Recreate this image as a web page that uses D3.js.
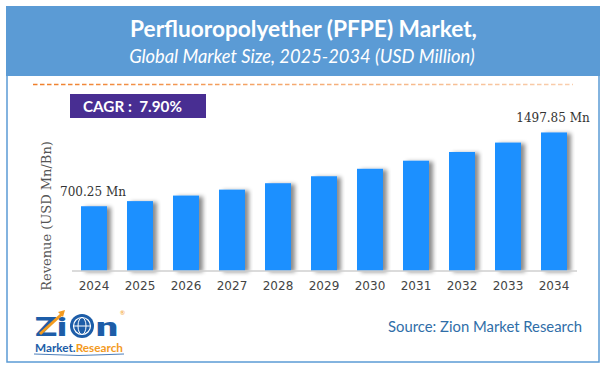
<!DOCTYPE html>
<html>
<head>
<meta charset="utf-8">
<script src="https://cdn.jsdelivr.net/npm/d3@7"></script>
<style>
  html, body { margin: 0; padding: 0; background: #ffffff; }
  svg { display: block; }
</style>
</head>
<body>
<div id="chart"></div>
<script>
// ---- data ----
const years = ["2024","2025","2026","2027","2028","2029","2030","2031","2032","2033","2034"];
const revenue = [700.25, 755.6, 815.3, 879.7, 949.2, 1024.2, 1105.1, 1192.4, 1286.6, 1388.2, 1497.85];
const valueLabels = [{year: "2024", text: "700.25 Mn"}, {year: "2034", text: "1497.85 Mn"}];
const titleText = "Perfluoropolyether (PFPE) Market,";
const subtitleText = "Global Market Size, 2025-2034 (USD Million)";
const cagrText = "CAGR :  7.90%";
const yAxisTitle = "Revenue (USD Mn/Bn)";
const sourceText = "Source: Zion Market Research";
const yDomain = [0, 1600];

const W = 607, H = 369;
const svg = d3.select("#chart").append("svg").attr("width", W).attr("height", H);
const defs = svg.append("defs");

// drop shadow for bars
const f = defs.append("filter").attr("id", "shadow").attr("x", "-30%").attr("y", "-10%").attr("width", "160%").attr("height", "120%");
f.append("feDropShadow").attr("dx", 4).attr("dy", 1).attr("stdDeviation", 2)
  .attr("flood-color", "#000").attr("flood-opacity", 0.45);

// fading dashed line gradient
const g1 = defs.append("linearGradient").attr("id", "dashGrad")
  .attr("gradientUnits", "userSpaceOnUse").attr("x1", 33).attr("x2", 573).attr("y1", 0).attr("y2", 0);
g1.append("stop").attr("offset", "0%").attr("stop-color", "#F07F2A").attr("stop-opacity", 1);
g1.append("stop").attr("offset", "100%").attr("stop-color", "#F7B98A").attr("stop-opacity", 0.7);

function fitText(sel, width) {
  const node = sel.node();
  const fs = parseFloat(sel.attr("font-size"));
  const len = node.getComputedTextLength();
  sel.attr("font-size", (fs * width / len).toFixed(2));
}

// frame
svg.append("rect").attr("x", 7).attr("y", 70).attr("width", 592).attr("height", 292)
  .attr("fill", "#fff").attr("stroke", "#5B9BD5").attr("stroke-width", 1.5);
svg.append("rect").attr("x", 6).attr("y", 6).attr("width", 594).attr("height", 70).attr("fill", "#5B9BD5");

const t1 = svg.append("text").attr("x", 303.5).attr("y", 37).attr("text-anchor", "middle")
  .attr("font-family", "Lato, 'Open Sans', sans-serif").attr("font-weight", "bold")
  .attr("font-size", 20).attr("fill", "#fff").text(titleText);
fitText(t1, 347);
const t2 = svg.append("text").attr("x", 302).attr("y", 63).attr("text-anchor", "middle")
  .attr("font-family", "Lato, 'Open Sans', sans-serif").attr("font-style", "italic")
  .attr("font-size", 16).attr("fill", "#fff").text(subtitleText);
fitText(t2, 346);

// dashed line
svg.append("line").attr("x1", 33).attr("x2", 573).attr("y1", 84.5).attr("y2", 84.5)
  .attr("stroke", "url(#dashGrad)").attr("stroke-width", 1.5).attr("stroke-dasharray", "4.5,2.5");

// CAGR box
svg.append("rect").attr("x", 70).attr("y", 94).attr("width", 136).attr("height", 24).attr("fill", "#482E92");
const ct = svg.append("text").attr("x", 83).attr("y", 112).style("white-space", "pre")
  .attr("font-family", "Lato, 'Open Sans', sans-serif").attr("font-weight", "bold")
  .attr("font-size", 14).attr("fill", "#fff").text(cagrText);
fitText(ct, 99);

// scales
const x = d3.scaleBand().domain(years).range([71, 577]).paddingInner(0.435).paddingOuter(0.2175);
const y = d3.scaleLinear().domain(yDomain).range([271, 123]);

// bars
svg.append("g").selectAll("rect").data(revenue).join("rect")
  .attr("x", (d, i) => x(years[i]))
  .attr("y", d => y(d))
  .attr("width", x.bandwidth())
  .attr("height", d => y(0) - y(d))
  .attr("fill", "#1E90FF")
  .attr("filter", "url(#shadow)");

// x axis
const xAxis = svg.append("g").attr("transform", "translate(0,271)")
  .call(d3.axisBottom(x).tickSize(0).tickPadding(0));
xAxis.select(".domain").attr("stroke", "#cfcfcf").attr("stroke-width", 1.5)
  .attr("d", "M72,0H577");
xAxis.selectAll("text").attr("font-family", "'DejaVu Sans', Verdana, sans-serif")
  .attr("font-size", 12).attr("fill", "#444").attr("dy", 0).attr("y", 19);

// value labels
svg.append("g").selectAll("text").data(valueLabels).join("text")
  .attr("x", d => x(d.year) + x.bandwidth() / 2 - 1)
  .attr("y", d => y(revenue[years.indexOf(d.year)]) - 10)
  .attr("text-anchor", "middle")
  .attr("font-family", "'DejaVu Serif', serif").attr("font-size", 12).attr("fill", "#333")
  .text(d => d.text);

// y axis title
svg.append("text").attr("transform", "translate(51,216) rotate(-90)")
  .attr("text-anchor", "middle").attr("font-family", "'DejaVu Serif', serif")
  .attr("font-size", 13).attr("fill", "#555").text(yAxisTitle);

// source
const st = svg.append("text").attr("x", 388).attr("y", 332)
  .attr("font-family", "Lato, 'Open Sans', sans-serif").attr("font-size", 15)
  .attr("fill", "#2F6EA8").text(sourceText);
fitText(st, 194);

// logo
const logo = svg.append("g");
logo.append("text").attr("x", 35).attr("y", 336)
  .attr("font-family", "Roboto, 'Open Sans', sans-serif").attr("font-weight", "900")
  .attr("font-size", 26).attr("fill", "#1D5DA8").attr("textLength", 32).attr("lengthAdjust", "spacingAndGlyphs").text("Zi");
// globe
logo.append("circle").attr("cx", 82).attr("cy", 326).attr("r", 12).attr("fill", "#1D5DA8");
logo.append("circle").attr("cx", 82).attr("cy", 326).attr("r", 8.5).attr("fill", "none").attr("stroke", "#fff").attr("stroke-width", 1.2);
logo.append("ellipse").attr("cx", 82).attr("cy", 326).attr("rx", 4).attr("ry", 8.5).attr("fill", "none").attr("stroke", "#fff").attr("stroke-width", 1);
logo.append("line").attr("x1", 73.5).attr("x2", 90.5).attr("y1", 326).attr("y2", 326).attr("stroke", "#fff").attr("stroke-width", 1);
logo.append("text").attr("x", 96).attr("y", 336)
  .attr("font-family", "Roboto, 'Open Sans', sans-serif").attr("font-weight", "900")
  .attr("font-size", 26).attr("fill", "#1D5DA8").attr("textLength", 22).attr("lengthAdjust", "spacingAndGlyphs").text("n");
// arrow
logo.append("path").attr("d", "M40,334 L62,314").attr("stroke", "#F39A1E").attr("stroke-width", 3).attr("fill", "none");
logo.append("path").attr("d", "M58,312 L65,310 L63,317 Z").attr("fill", "#F39A1E");
logo.append("text").attr("x", 120).attr("y", 315).attr("font-family", "Lato, sans-serif").attr("font-size", 6).attr("fill", "#F39A1E").text("®");
const mk = logo.append("text").attr("x", 35).attr("y", 352)
  .attr("font-family", "Lato, 'Open Sans', sans-serif").attr("font-weight", "bold").attr("font-size", 9);
mk.append("tspan").attr("fill", "#1D5DA8").text("Market.");
mk.append("tspan").attr("fill", "#F39A1E").text("Research");
fitText(mk, 88);
logo.append("path").attr("d", "M34,354 Q79,357 124,354").attr("stroke", "#1D5DA8").attr("stroke-width", 0.8).attr("fill", "none");
</script>
</body>
</html>
